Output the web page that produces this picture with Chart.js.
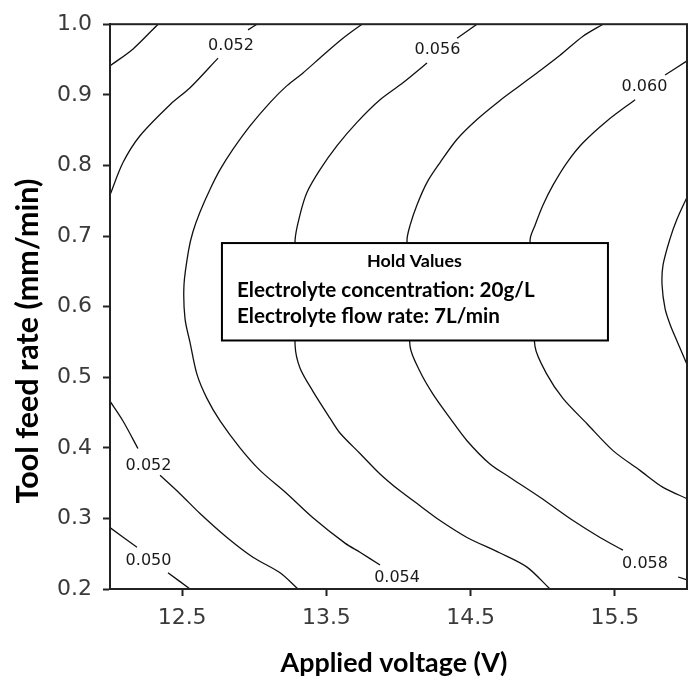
<!DOCTYPE html>
<html>
<head>
<meta charset="utf-8">
<script src="https://cdn.jsdelivr.net/npm/chart.js@4.4.1/dist/chart.umd.min.js"></script>
<style>
  body { margin: 0; background: #fff; }
</style>
</head>
<body>
<canvas id="canvas" width="693" height="683"></canvas>
<script>
// axes
var xTicks = [12.5, 13.5, 14.5, 15.5];
var yTicks = [0.2, 0.3, 0.4, 0.5, 0.6, 0.7, 0.8, 0.9, 1.0];

// contour lines as [voltage, feed rate]
var c050Corner = [[12.000, 0.941], [12.160, 0.965], [12.333, 1.000]];
var c050Low = [[12.000, 0.287], [12.187, 0.259]];
var c050LowEnd = [[12.402, 0.223], [12.555, 0.200]];
var c052Top = [[12.000, 0.758], [12.090, 0.804], [12.208, 0.842], [12.416, 0.886], [12.555, 0.910], [12.749, 0.952]];
var c052TopEnd = [[12.957, 0.992], [13.019, 1.000]];
var c052Low = [[12.000, 0.466], [12.090, 0.438], [12.194, 0.399]];
var c052LowEnd = [[12.347, 0.361], [12.485, 0.335], [12.624, 0.307], [12.811, 0.273], [12.991, 0.245], [13.179, 0.223], [13.303, 0.200]];
var c054 = [[13.747, 1.000], [13.615, 0.980], [13.477, 0.956], [13.338, 0.931], [13.227, 0.913], [13.109, 0.889], [12.971, 0.856],
            [12.853, 0.823], [12.763, 0.794], [12.693, 0.766], [12.624, 0.734], [12.575, 0.706], [12.545, 0.680], [12.513, 0.631],
            [12.520, 0.583], [12.555, 0.549], [12.603, 0.504], [12.672, 0.470], [12.763, 0.438], [12.901, 0.400], [13.040, 0.368],
            [13.227, 0.335], [13.407, 0.301], [13.629, 0.265], [13.733, 0.252], [13.872, 0.234]];
var c056Top = [[14.544, 1.000], [14.406, 0.980]];
var c056 = [[14.198, 0.945], [14.031, 0.917], [13.872, 0.893], [13.712, 0.861], [13.574, 0.828], [13.456, 0.794], [13.366, 0.762],
            [13.317, 0.730], [13.283, 0.694], [13.283, 0.546], [13.317, 0.513], [13.407, 0.480], [13.525, 0.442], [13.594, 0.421],
            [13.733, 0.392], [13.872, 0.363], [14.010, 0.339], [14.149, 0.318], [14.288, 0.297], [14.475, 0.273], [14.704, 0.251],
            [14.891, 0.231], [15.050, 0.200]];
var c058 = [[15.418, 1.000], [15.279, 0.983], [15.120, 0.956], [14.960, 0.931], [14.822, 0.910], [14.704, 0.892], [14.544, 0.865],
            [14.406, 0.837], [14.288, 0.804], [14.198, 0.776], [14.128, 0.744], [14.080, 0.715], [14.059, 0.694], [14.080, 0.544],
            [14.149, 0.508], [14.239, 0.476], [14.357, 0.442], [14.475, 0.410], [14.634, 0.377], [14.773, 0.358], [14.981, 0.330],
            [15.210, 0.297], [15.397, 0.273], [15.556, 0.255]];
var c058End = [[15.938, 0.217], [16.000, 0.213]];
var c060Top = [[16.000, 0.948], [15.848, 0.928]];
var c060 = [[15.640, 0.893], [15.445, 0.863], [15.279, 0.832], [15.168, 0.804], [15.071, 0.772], [15.002, 0.744], [14.946, 0.715],
            [14.912, 0.694], [14.946, 0.544], [15.029, 0.504], [15.140, 0.470], [15.307, 0.434], [15.487, 0.396], [15.674, 0.368],
            [15.834, 0.344], [16.000, 0.328]];
var c062 = [[16.000, 0.755], [15.931, 0.724], [15.882, 0.696], [15.834, 0.659], [15.827, 0.631], [15.848, 0.597], [15.882, 0.575],
            [15.931, 0.551], [16.000, 0.518]];

var contourLines = [c050Corner, c050Low, c050LowEnd, c052Top, c052TopEnd, c052Low, c052LowEnd, c054,
                    c056Top, c056, c058, c058End, c060Top, c060, c062];

// contour labels [text, voltage, feed rate]
var contourLabels = [
  ['0.052', 12.839, 0.970], ['0.056', 14.270, 0.963], ['0.060', 15.705, 0.911],
  ['0.052', 12.267, 0.375], ['0.050', 12.267, 0.240], ['0.054', 13.990, 0.216], ['0.058', 15.709, 0.235]
];

var holdTitle = 'Hold Values';
var holdLines = ['Electrolyte concentration: 20g/L', 'Electrolyte flow rate: 7L/min'];

var fitFont = function(ctx, text, weight, family, width) {
  ctx.font = weight + ' 100px ' + family;
  return 100 * width / ctx.measureText(text).width;
};

var decorPlugin = {
  id: 'decor',
  afterDatasetsDraw: function(chart) {
    var ctx = chart.ctx, a = chart.chartArea;
    var xs = chart.scales.x, ys = chart.scales.y;
    ctx.save();

    // contour labels
    ctx.fillStyle = '#1a1a1a';
    ctx.font = '16px "DejaVu Sans"';
    ctx.textAlign = 'center';
    ctx.textBaseline = 'middle';
    contourLabels.forEach(function(l) {
      ctx.fillText(l[0], xs.getPixelForValue(l[1]), ys.getPixelForValue(l[2]));
    });

    // hold values box
    var bx0 = xs.getPixelForValue(12.776), bx1 = xs.getPixelForValue(15.452);
    var by0 = ys.getPixelForValue(0.690), by1 = ys.getPixelForValue(0.552);
    ctx.fillStyle = '#fff';
    ctx.fillRect(bx0, by0, bx1 - bx0, by1 - by0);
    ctx.strokeStyle = '#000';
    ctx.lineWidth = 2;
    ctx.strokeRect(bx0, by0, bx1 - bx0, by1 - by0);
    ctx.fillStyle = '#000';
    var fam = 'Lato, "Open Sans", sans-serif';
    var s1 = fitFont(ctx, holdTitle, 'bold', fam, 95);
    ctx.font = 'bold ' + s1 + 'px ' + fam;
    ctx.textAlign = 'center';
    ctx.fillText(holdTitle, (bx0 + bx1) / 2 - 0.5, by0 + 18);
    var s2 = fitFont(ctx, holdLines[0], 'bold', fam, 298);
    ctx.font = 'bold ' + s2 + 'px ' + fam;
    ctx.textAlign = 'left';
    ctx.fillText(holdLines[0], bx0 + 15, by0 + 47);
    ctx.fillText(holdLines[1], bx0 + 15, by0 + 73);

    // frame
    ctx.strokeStyle = '#222';
    ctx.lineWidth = 2;
    ctx.strokeRect(a.left, a.top, a.right - a.left, a.bottom - a.top);

    // axis titles
    var sx = fitFont(ctx, 'Applied voltage (V)', 'bold', fam, 227);
    ctx.font = 'bold ' + sx + 'px ' + fam;
    ctx.textAlign = 'center';
    ctx.fillText('Applied voltage (V)', 394, 663);
    var sy = fitFont(ctx, 'Tool feed rate (mm/min)', 'bold', fam, 325);
    ctx.font = 'bold ' + sy + 'px ' + fam;
    ctx.translate(28, 341);
    ctx.rotate(-Math.PI / 2);
    ctx.fillText('Tool feed rate (mm/min)', 0, 0);
    ctx.restore();
  }
};

window.onload = function() {
  var ctx = document.getElementById('canvas').getContext('2d');
  window.myChart = new Chart(ctx, {
    type: 'scatter',
    data: {
      datasets: contourLines.map(function(seg) {
        return {
          data: seg.map(function(p) { return { x: p[0], y: p[1] }; }),
          showLine: true,
          borderColor: '#111',
          borderWidth: 1.3,
          pointRadius: 0,
          tension: 0.3
        };
      })
    },
    options: {
      responsive: false,
      animation: false,
      layout: { padding: { left: 0, right: 6, top: 21, bottom: 0 } },
      plugins: { legend: { display: false }, tooltip: { enabled: false } },
      scales: {
        x: {
          type: 'linear', min: 12, max: 16,
          afterBuildTicks: function(s) { s.ticks = xTicks.map(function(v) { return { value: v }; }); },
          afterFit: function(s) { s.height = 94; },
          grid: { drawOnChartArea: false, drawTicks: true, tickLength: 7, tickWidth: 2, color: '#222' },
          border: { display: true, color: '#222', width: 2 },
          ticks: { font: { family: 'DejaVu Sans', size: 22 }, color: '#3a3a3a', padding: 9, maxRotation: 0,
                   callback: function(v) { return v.toFixed(1); } }
        },
        y: {
          type: 'linear', min: 0.2, max: 1.0,
          afterBuildTicks: function(s) { s.ticks = yTicks.map(function(v) { return { value: v }; }); },
          afterFit: function(s) { s.width = 110; },
          grid: { drawOnChartArea: false, drawTicks: true, tickLength: 7, tickWidth: 2, color: '#222' },
          border: { display: true, color: '#222', width: 2 },
          ticks: { font: { family: 'DejaVu Sans', size: 22 }, color: '#3a3a3a', padding: 11,
                   callback: function(v) { return v.toFixed(1); } }
        }
      }
    },
    plugins: [decorPlugin]
  });
};
</script>
</body>
</html>
